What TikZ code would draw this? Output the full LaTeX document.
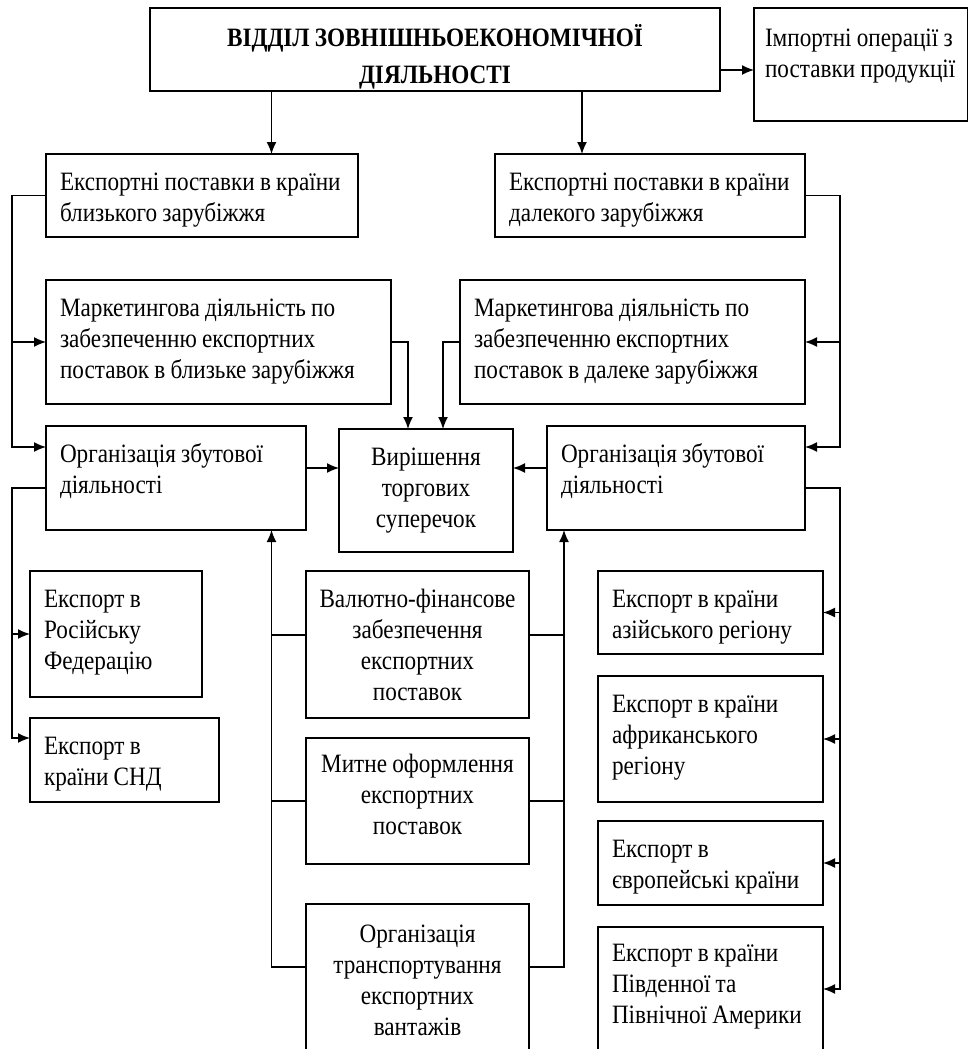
\documentclass[tikz,border=0pt]{standalone}
\usepackage{fontspec}
\setmainfont{Liberation Serif}[FakeStretch=0.875, WordSpace=0.9]
\usepackage{tikz}
\usetikzlibrary{arrows.meta}
\tikzset{box/.style={draw, anchor=north west, outer sep=0pt, inner xsep=14pt, inner ysep=0pt, align=flush left, text height=36pt, font=\fontsize{26.5}{31}\selectfont},
	cbox/.style={box, align=flush center, inner xsep=8pt}}

\begin{document}
\begin{tikzpicture}[x=1pt, y=-1pt, line width=1.5pt, >={Latex[length=12pt,width=10pt]}]
		\useasboundingbox (0,0) rectangle (968,1049);
		\node[cbox, text width=554pt, text height=39pt, text depth=44pt, font=\bfseries\fontsize{26.5}{36}\selectfont](dept) at (150,8){ВІДДІЛ ЗОВНІШНЬОЕКОНОМІЧНОЇ\\ДІЯЛЬНОСТІ};
		\node[box, text width=192pt, inner xsep=11pt, text height=39pt, text depth=74pt](import) at (754,8){Імпортні операції з\\поставки продукції};
		\node[box, text width=284pt, text depth=47pt](near) at (46,154){Експортні поставки в країни\\близького зарубіжжя};
		\node[box, text width=282pt, text depth=47pt](far) at (495,154){Експортні поставки в країни\\далекого зарубіжжя};
		\node[box, text width=317pt, text depth=88pt](mknear) at (46,280){Маркетингова діяльність по\\забезпеченню експортних\\поставок в близьке зарубіжжя};
		\node[box, text width=317pt, text depth=88pt](mkfar) at (460,280){Маркетингова діяльність по\\забезпеченню експортних\\поставок в далеке зарубіжжя};
		\node[box, text width=232pt, text depth=68pt](orgnear) at (46,426){Організація збутової\\діяльності};
		\node[box, text width=230pt, text depth=68pt](orgfar) at (547,426){Організація збутової\\діяльності};
		\node[cbox, text width=158pt, text depth=87pt](dispute) at (339,429){Вирішення\\торгових\\суперечок};
		\node[box, text width=144pt, text depth=90pt](russia) at (30,571){Експорт в\\Російську\\Федерацію};
		\node[box, text width=161pt, text depth=48pt](cis) at (30,718){Експорт в\\країни СНД};
		\node[cbox, text width=207pt, text depth=111pt](finance) at (306,571){Валютно-фінансове\\забезпечення\\експортних\\поставок};
		\node[cbox, text width=207pt, text height=34pt, text depth=92pt](customs) at (306,738){Митне оформлення\\експортних\\поставок};
		\node[cbox, text width=207pt, text height=38pt, text depth=132pt](transport) at (306,904){Організація\\транспортування\\експортних\\вантажів};
		\node[box, text width=197pt, text depth=47pt](asia) at (598,571){Експорт в країни\\азійського регіону};
		\node[box, text width=197pt, text depth=90pt](africa) at (598,676){Експорт в країни\\африканського\\регіону};
		\node[box, text width=197pt, text depth=48pt](europe) at (598,821){Експорт в\\європейські країни};
		\node[box, text width=197pt, text height=34pt, text depth=90pt](america) at (598,927){Експорт в країни\\Південної та\\Північної Америки};
		\draw[->]([yshift=-62pt]dept.north east) -- ([yshift=-62pt]import.north west);
		\draw[->]([xshift=121.5pt]dept.south west) -- ([xshift=225.5pt]near.north west);
		\draw[->]([xshift=-138pt]dept.south east) -- ([xshift=87pt]far.north west);
		\draw[->](near.west) -- ++(-34,0) |- ([yshift=-21pt]orgnear.north west);
		\draw[->]([xshift=-34pt]mknear.west) -- (mknear.west);
		\draw[->]([yshift=-62pt]orgnear.north west) -- ++(-34,0) |- ([yshift=-20pt]cis.north west);
		\draw[->]([xshift=-18pt]russia.west) -- (russia.west);
		\draw[->](far.east) -- ++(35,0) |- ([yshift=-21pt]orgfar.north east);
		\draw[->]([xshift=35pt]mkfar.east) -- (mkfar.east);
		\draw[->]([yshift=-62pt]orgfar.north east) -- ++(35,0) |- (america.east);
		\draw[->]([xshift=17pt]asia.east) -- (asia.east);
		\draw[->]([xshift=17pt]africa.east) -- (africa.east);
		\draw[->]([xshift=17pt]europe.east) -- (europe.east);
		\draw[->](mknear.east) -| ([xshift=69pt]dispute.north west);
		\draw[->](mkfar.west) -| ([xshift=104pt]dispute.north west);
		\draw[->]([yshift=-42pt]orgnear.north east) -- ([yshift=-39pt]dispute.north west);
		\draw[->]([yshift=-42pt]orgfar.north west) -- ([yshift=-39pt]dispute.north east);
		\draw[->]([yshift=-63pt]transport.north west) -| ([xshift=-34.5pt]orgnear.south east);
		\draw([yshift=-64pt]finance.north west) -- ++(-35,0);
		\draw(customs.west) -- ++(-35,0);
		\draw[->]([yshift=-63pt]transport.north east) -| ([xshift=17pt]orgfar.south west);
		\draw([yshift=-64pt]finance.north east) -- ++(35,0);
		\draw(customs.east) -- ++(35,0);
	\end{tikzpicture}
\end{document}
